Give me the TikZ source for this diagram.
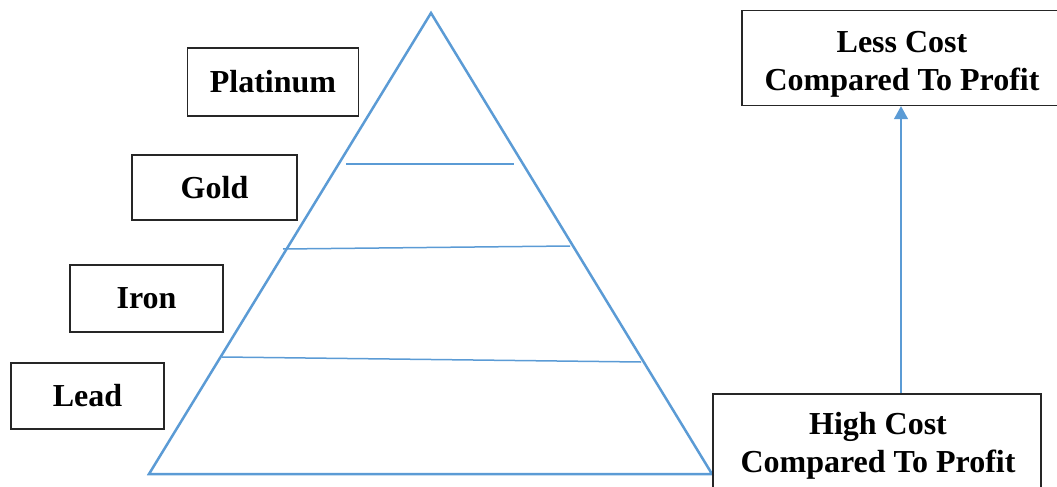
\documentclass[tikz,border=0pt]{standalone}
\usepackage{fontspec}
\setmainfont{Liberation Serif}
\usetikzlibrary{arrows.meta}
\definecolor{pyrblue}{RGB}{91,155,213}
\tikzset{
  metal/.style={draw=black!85,line width=1.3pt,font=\fontsize{32}{37}\selectfont\bfseries,inner sep=0pt},
  costbox/.style={draw=black!85,line width=1.3pt,inner sep=0pt},
  costtext/.style={font=\fontsize{32}{38}\selectfont\bfseries,align=center,inner sep=0pt},
  pyr/.style={draw=pyrblue,line width=2.5pt,line join=miter},
  level/.style={draw=pyrblue,line width=1.5pt}
}
\begin{document}
\begin{tikzpicture}[x=1pt,y=-1pt]
      \useasboundingbox (0,0) rectangle (1057,487);
      \draw[pyr] (431,13) -- (149,474) -- (712,474) -- cycle;
      \draw[level] (346,164) -- (514,164);
      \draw[level] (283,249) -- (570,246);
      \draw[level] (222,357) -- (641,362);
      \node[metal,minimum width=171pt,minimum height=68pt] (platinum) at (273,82) {Platinum};
      \node[metal,minimum width=165pt,minimum height=65pt] (gold) at (214.5,187.5) {Gold};
      \node[metal,minimum width=153pt,minimum height=67pt] (iron) at (146.5,298.5) {Iron};
      \node[metal,minimum width=153pt,minimum height=66pt] (lead) at (87.5,396) {Lead};
      \node[costbox,minimum width=318pt,minimum height=95pt] (less) at (901,58) {};
      \node[costtext] (lesstext) at (902,64) {Less Cost\\Compared To Profit};
      \node[costbox,minimum width=328pt,minimum height=96pt] (high) at (877,442) {};
      \node[costtext] (hightext) at (878,446) {High Cost\\Compared To Profit};
      \begin{scope}[-{Triangle[width=14pt,length=13pt]}]
        \draw[pyrblue,line width=1.3pt] (high.north -| less.south) to (less.south);
      \end{scope}
    \end{tikzpicture}
\end{document}
